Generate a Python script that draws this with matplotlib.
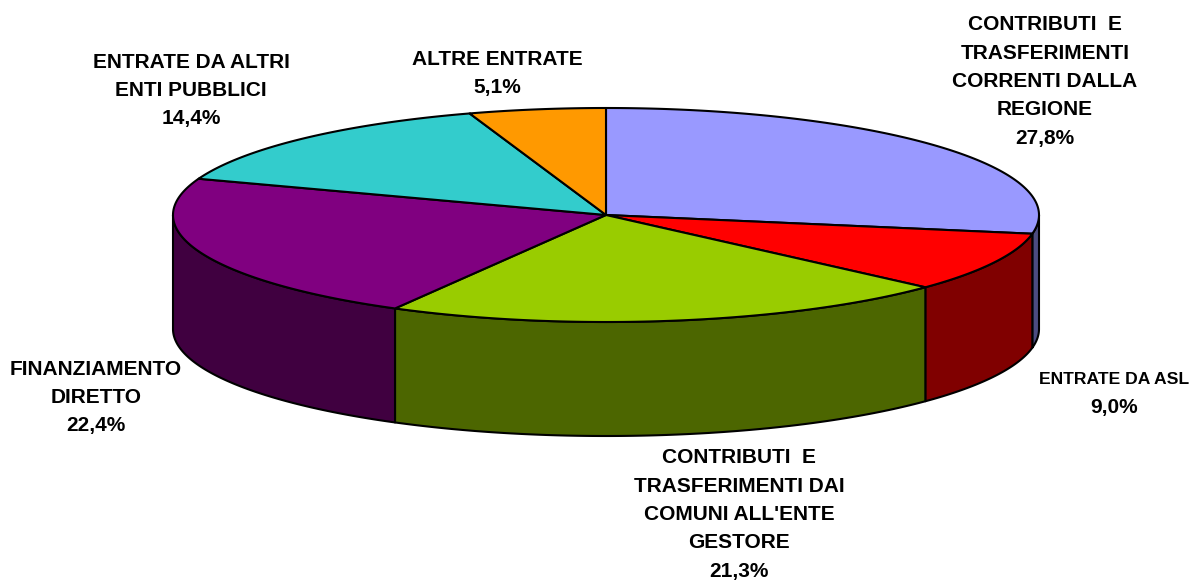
import numpy as np
import matplotlib
matplotlib.use('Agg')
import matplotlib.pyplot as plt
from matplotlib.patches import Polygon

labels = ['CONTRIBUTI  E\nTRASFERIMENTI\nCORRENTI DALLA\nREGIONE', 'ENTRATE DA ASL',
          "CONTRIBUTI  E\nTRASFERIMENTI DAI\nCOMUNI ALL'ENTE\nGESTORE", 'FINANZIAMENTO\nDIRETTO',
          'ENTRATE DA ALTRI\nENTI PUBBLICI', 'ALTRE ENTRATE']
values = [27.8, 9.0, 21.3, 22.4, 14.4, 5.1]
colors = ['#9999FF', '#FF0000', '#99CC00', '#800080', '#33CCCC', '#FF9900']
side_colors = ['#4C4C80', '#800000', '#4C6600', '#400040', '#1A6666', '#804C00']
label_pos = [(1045, 81.5), (1114, 393.5), (739, 514.5), (96, 397.5), (191, 90.5), (497, 73.5)]

cx, cy = 606, 215
rx, ry = 433, 107
depth = 114
line_step = 28.4


def edge(a):
    # a in degrees, clockwise from the top of the pie
    a = np.radians(a)
    return np.column_stack([cx + rx * np.sin(a), cy - ry * np.cos(a)])


fig = plt.figure(figsize=(11.92, 5.81), dpi=100)
ax = fig.add_axes([0, 0, 1, 1])
ax.set_xlim(0, 1192)
ax.set_ylim(581, 0)
ax.axis('off')

angles = np.cumsum([0] + values) * 3.6

# walls first, only the front half of the rim shows
for i in range(len(values)):
    a0, a1 = max(angles[i], 90), min(angles[i + 1], 270)
    if a0 >= a1:
        continue
    rim = edge(np.linspace(a0, a1, 200))
    low = rim + [0, depth]
    ax.add_patch(Polygon(np.vstack([rim, low[::-1]]), fc=side_colors[i], ec='black', lw=1.5, joinstyle='round'))

# top face
for i in range(len(values)):
    rim = edge(np.linspace(angles[i], angles[i + 1], 300))
    ax.add_patch(Polygon(np.vstack([[cx, cy], rim]), fc=colors[i], ec='black', lw=1.5, joinstyle='round'))

# one text per line, the reference has a wide and regular line pitch
for lab, val, (x, y) in zip(labels, values, label_pos):
    lines = lab.split('\n') + [f'{val:.1f}%'.replace('.', ',')]
    for k, line in enumerate(lines):
        size = 12.6 if line == 'ENTRATE DA ASL' else 15
        ax.text(x, y + (k - (len(lines) - 1) / 2) * line_step, line, ha='center', va='center',
                fontsize=size, fontweight='bold', family='Liberation Sans', color='black')

fig.savefig('out.png', dpi=100)
